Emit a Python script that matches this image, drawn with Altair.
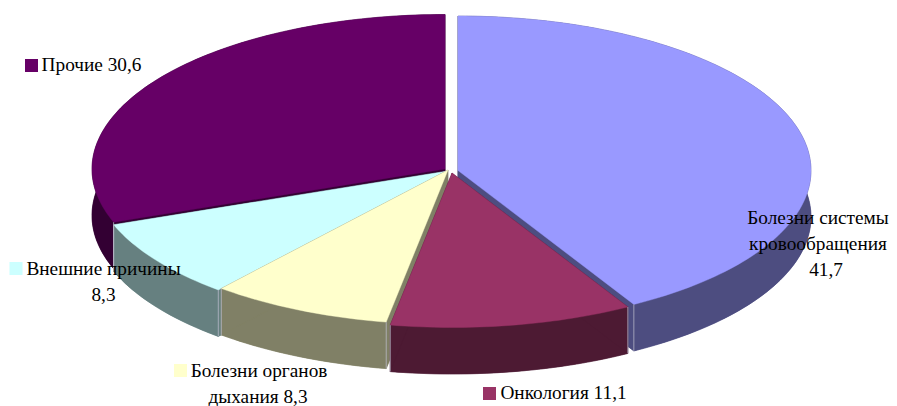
import math
import altair as alt
import pandas as pd

# ---- chart values
categories = ["Болезни системы кровообращения", "Онкология", "Болезни органов дыхания", "Внешние причины", "Прочие"]
shares = [41.7, 11.1, 8.3, 8.3, 30.6]
top_colors = ["#9999FF", "#993366", "#FFFFCC", "#CCFFFF", "#660066"]
wall_colors = ["#4D4D80", "#4D1A33", "#808066", "#668080", "#330033"]

# label lines, one entry per printed line
label_lines = ["Болезни системы", "кровообращения", "41,7", "Онкология 11,1", "Болезни органов",
               "дыхания 8,3", "Внешние причины", "8,3", "Прочие 30,6"]

# ---- layout (page pixels)
PAGE = 8
RX, RY, DEPTH = 353, 154.5, 46.5
apex = [(458, 170.5), (452, 173), (448, 170), (445, 171.5), (445, 169)]
paint_order = [4, 0, 3, 2, 1]
label_x = [818, 818, 826, 563.5, 259, 258, 103.5, 103.5, 91.5]
label_y = [224, 250, 276, 399, 377, 403, 275, 301, 71]
key_slice = [1, 2, 3, 4]
key_x = [489.5, 180.5, 16, 31.5]
key_y = [393.5, 370.5, 268.5, 65.5]


def sector_arc(i):
    start = sum(shares[:i]) / sum(shares) * 2 * math.pi
    end = sum(shares[:i + 1]) / sum(shares) * 2 * math.pi
    cx, cy = apex[i]
    n = max(8, int(shares[i] * 3))
    return [(cx + RX * math.sin(start + (end - start) * k / n),
             cy - RY * math.cos(start + (end - start) * k / n)) for k in range(n + 1)]


def shifted(points):
    return [(x, y + DEPTH) for x, y in points]


def ring(points):
    pts = [list(p) for p in points]
    return [pts + [pts[0]]]


def feature(kind, coords, color):
    return {"type": "Feature", "geometry": {"type": kind, "coordinates": coords},
            "properties": {"fill": color}}


solids = []
seams = []
for i in paint_order:
    arc = sector_arc(i)
    a = apex[i]
    low = shifted(arc)
    la = (a[0], a[1] + DEPTH)
    walls = [ring(low + [la]),
             ring(arc + low[::-1]),
             ring([a, arc[0], low[0], la]),
             ring([a, arc[-1], low[-1], la])]
    for w in walls:
        solids.append(feature("Polygon", w, wall_colors[i]))
    solids.append(feature("Polygon", ring(arc + [a]), top_colors[i]))
    for p, q in ((arc[0], low[0]), (arc[-1], low[-1])):
        if p[1] > a[1] + 40:
            seams.append(feature("LineString", [list(p), list(q)], "#C4C4C4"))

proj = dict(type="identity", scale=1, translate=[-PAGE, -PAGE])

body = alt.Chart(alt.Data(values=solids)).mark_geoshape(strokeWidth=0.4).encode(
    fill=alt.Fill("properties.fill:N", scale=None),
    stroke=alt.Stroke("properties.fill:N", scale=None),
).project(**proj)

edges = alt.Chart(alt.Data(values=seams)).mark_geoshape(filled=False, strokeWidth=1, stroke="#B8B8C8", opacity=0.8).project(**proj)

keys = pd.DataFrame({
    "x": [v - PAGE for v in key_x],
    "y": [v - PAGE for v in key_y],
    "c": [top_colors[i] for i in key_slice],
})
squares = alt.Chart(keys).mark_square(size=170, opacity=1).encode(
    x=alt.X("x:Q", scale=None, axis=None),
    y=alt.Y("y:Q", scale=None, axis=None),
    color=alt.Color("c:N", scale=None),
)

labels = pd.DataFrame({
    "t": label_lines,
    "x": [v - PAGE for v in label_x],
    "y": [v - PAGE for v in label_y],
})
texts = alt.Chart(labels).mark_text(font="Liberation Serif", fontSize=19.3, color="#000000",
                                    align="center", baseline="alphabetic").encode(
    x=alt.X("x:Q", scale=None, axis=None),
    y=alt.Y("y:Q", scale=None, axis=None),
    text="t:N",
)

chart = alt.layer(body, edges, squares, texts).properties(
    width=881, height=398, padding=0, autosize=alt.AutoSizeParams(type="none"),
    background="#FFFFFF",
).configure_view(stroke=None)

chart.save("out.html", embed_options={"renderer": "svg", "actions": False})
